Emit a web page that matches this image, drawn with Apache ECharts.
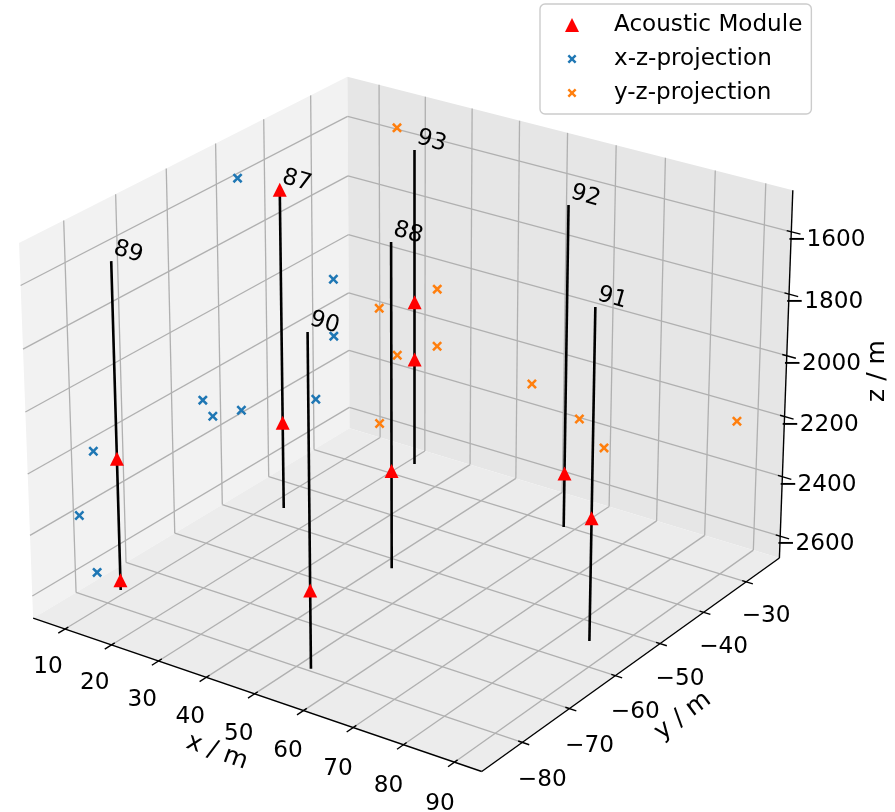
<!doctype html>
<html><head><meta charset="utf-8">
<style>html,body{margin:0;padding:0;background:#fff}#c{width:895px;height:812px}</style>
<script src="https://cdn.jsdelivr.net/npm/echarts@6/dist/echarts.min.js"></script>
</head><body><div id="c"></div>
<script>
// ---- data (metres) ----
const stringIds    = [87, 88, 89, 90, 91, 92, 93];
const stringX      = [13.0, 42.4, 9.0, 52.6, 85.1, 57.9, 21.8];
const stringY      = [-46.4, -52.4, -76.5, -79.6, -54.4, -30.3, -26.2];
const stringTopZ   = [-1606, -1601, -1600, -1602, -1603, -1602, -1604];
const stringBotZ   = [-2672, -2671, -2671, -2672, -2673, -2673, -2671];
const moduleString = [87, 87, 93, 93, 89, 89, 88, 92, 90, 91];
const moduleZ      = [-1606, -2380, -2113, -2309, -2235, -2638, -2345, -2491, -2417, -2272];
const xzProjectionX = 3.9;    // plane on which the blue crosses sit
const yzProjectionY = -21.1;  // plane on which the orange crosses sit
const xTicks = [10, 20, 30, 40, 50, 60, 70, 80, 90];
const yTicks = [-80, -70, -60, -50, -40, -30];
const zTicks = [-2600, -2400, -2200, -2000, -1800, -1600];
const xLim = [3.08, 95.3], yLim = [-88.4, -22.0], zLim = [-2674, -1468];
const seriesNames = ['Acoustic Module', 'x-z-projection', 'y-z-projection'];

// ---- 3D view (elev 25, azim -55, perspective) -> page pixels ----
const elev = 25 * Math.PI / 180, azim = -55 * Math.PI / 180, viewDist = 10;
const k = 1.8294640721620434 / Math.sqrt(41), box = [4 * k, 4 * k, 3 * k];
const dot = (a, b) => a[0] * b[0] + a[1] * b[1] + a[2] * b[2];
const cross = (a, b) => [a[1] * b[2] - a[2] * b[1], a[2] * b[0] - a[0] * b[2], a[0] * b[1] - a[1] * b[0]];
const nrm = [Math.cos(elev) * Math.cos(azim), Math.cos(elev) * Math.sin(azim), Math.sin(elev)];
const eye = box.map((b, i) => b / 2 + viewDist * nrm[i]);
const ul = Math.hypot(nrm[0], nrm[1]);
const U = cross([0, 0, 1], nrm).map(v => v / ul), V = cross(nrm, U);
const scaleX = [4772.59, 410.93], scaleY = [-4778.93, 405.38];
function project(x, y, z) {
  const p = [(x - xLim[0]) / (xLim[1] - xLim[0]) * box[0] - eye[0],
             (y - yLim[0]) / (yLim[1] - yLim[0]) * box[1] - eye[1],
             (z - zLim[0]) / (zLim[1] - zLim[0]) * box[2] - eye[2]];
  const d = -dot(p, nrm);
  return [scaleX[0] * dot(p, U) / d + scaleX[1], scaleY[0] * dot(p, V) / d + scaleY[1]];
}
const seg = (a, b) => ({ coords: [project(...a), project(...b)] });
const [x0, x1] = xLim, [y0, y1] = yLim, [z0, z1] = zLim;

// ---- panes, grid, axes ----
const panes = [
  { fill: '#f2f2f2', pts: [[x0, y0, z0], [x0, y1, z0], [x0, y1, z1], [x0, y0, z1]] },
  { fill: '#e6e6e6', pts: [[x0, y1, z0], [x1, y1, z0], [x1, y1, z1], [x0, y1, z1]] },
  { fill: '#ececec', pts: [[x0, y0, z0], [x1, y0, z0], [x1, y1, z0], [x0, y1, z0]] }
];
const gridSegs = [];
xTicks.forEach(t => { gridSegs.push(seg([t, y0, z0], [t, y1, z0]), seg([t, y1, z0], [t, y1, z1])); });
yTicks.forEach(t => { gridSegs.push(seg([x0, t, z0], [x1, t, z0]), seg([x0, t, z0], [x0, t, z1])); });
zTicks.forEach(t => { gridSegs.push(seg([x0, y0, t], [x0, y1, t]), seg([x0, y1, t], [x1, y1, t])); });
const axisSegs = [seg([x0, y0, z0], [x1, y0, z0]), seg([x1, y0, z0], [x1, y1, z0]), seg([x1, y1, z0], [x1, y1, z1])];
xTicks.forEach(t => axisSegs.push(seg([t, y0 - 1.3, z0], [t, y0 + 0.65, z0])));
yTicks.forEach(t => axisSegs.push(seg([x1 - 0.8, t, z0], [x1 + 1.35, t, z0])));
zTicks.forEach(t => axisSegs.push(seg([x1 - 0.9, y1, t], [x1 + 1.8, y1, t])));

// ---- marks ----
const strIdx = id => stringIds.indexOf(id);
const stringSegs = stringIds.map((id, i) => seg([stringX[i], stringY[i], stringTopZ[i]], [stringX[i], stringY[i], stringBotZ[i]]));
const modulePts = moduleString.map((id, i) => project(stringX[strIdx(id)], stringY[strIdx(id)], moduleZ[i]));
const xzPts = moduleString.map((id, i) => project(xzProjectionX, stringY[strIdx(id)], moduleZ[i]));
const yzPts = moduleString.map((id, i) => project(stringX[strIdx(id)], yzProjectionY, moduleZ[i]));

// ---- texts ----
const FS = 23.2, FS_AXIS = 25, minus = v => (v < 0 ? '\u2212' + (-v) : String(v));
const texts = [];
const addText = (pos, dx, dy, text, rot, size) => texts.push({ value: [pos[0] + dx, pos[1] + dy], text, rot: rot * Math.PI / 180, size: size || FS });
// tick labels sit further from the axis where the box is nearer to the viewer
xTicks.forEach((t, i) => addText(project(t, y0, z0), -17 + i * 0.31, 38 + i * 0.5, String(t), 0));
yTicks.forEach((t, i) => addText(project(x1, t, z0), 20, 38 - i * 0.8, minus(t), 0));
zTicks.forEach(t => addText(project(x1, y1, t), 35, 8, minus(t), 0));
stringIds.forEach((id, i) => addText(project(stringX[i], stringY[i], stringTopZ[i]), 17, -9, String(id), -16));
addText([217, 752], 0, 0, 'x / m', -20, FS_AXIS);
addText([683, 716], 0, 0, 'y / m', 37, FS_AXIS);
addText([877, 371], 0, 0, 'z / m', 90, FS_AXIS);

const xPath = 'M1.8 0L5 3.2L8.2 0L10 1.8L6.8 5L10 8.2L8.2 10L5 6.8L1.8 10L0 8.2L3.2 5L0 1.8Z';
const xSymbol = 'path://' + xPath;
const triSymbol = 'path://M5 0L10 10L0 10Z';
const xLegendIcon = 'path://M0 0L0 0M14 14L14 14M4.2 2.5L7 5.3L9.8 2.5L11.5 4.2L8.7 7L11.5 9.8L9.8 11.5L7 8.7L4.2 11.5L2.5 9.8L5.3 7L2.5 4.2Z';

const lineSeries = (data, color, width, z) => ({
  type: 'lines', coordinateSystem: 'cartesian2d', polyline: false, silent: true, z, animation: false,
  symbol: ['none', 'none'], lineStyle: { color, width, opacity: 1, curveness: 0 }, data
});

const chart = echarts.init(document.getElementById('c'), null, { renderer: 'canvas' });
chart.setOption({
  animation: false,
  backgroundColor: '#ffffff',
  grid: { left: 0, right: 0, top: 0, bottom: 0 },
  xAxis: { type: 'value', min: 0, max: 895, show: false },
  yAxis: { type: 'value', min: 0, max: 812, inverse: true, show: false },
  legend: {
    left: 540, top: 4, orient: 'vertical', padding: [9, 9, 9, 25],
    data: [
      { name: seriesNames[0], icon: triSymbol },
      { name: seriesNames[1], icon: xLegendIcon },
      { name: seriesNames[2], icon: xLegendIcon }
    ],
    itemWidth: 14, itemHeight: 14, itemGap: 10, selectedMode: false,
    backgroundColor: 'rgba(255,255,255,0.8)', borderColor: '#cccccc', borderWidth: 1.4, borderRadius: 5,
    textStyle: { fontFamily: 'DejaVu Sans', fontSize: 23.1, lineHeight: 24, color: '#000', padding: [0, 0, 0, 30] }
  },
  series: [
    {
      type: 'custom', coordinateSystem: 'cartesian2d', silent: true, z: 1, clip: false,
      data: panes.map((p, i) => [i]),
      renderItem: (params, api) => ({
        type: 'polygon',
        shape: { points: panes[params.dataIndex].pts.map(q => api.coord(project(...q))) },
        style: { fill: panes[params.dataIndex].fill }
      })
    },
    lineSeries(gridSegs, '#b0b0b0', 1.3, 2),
    lineSeries(axisSegs, '#000000', 1.4, 3),
    { name: seriesNames[1], type: 'scatter', symbol: xSymbol, symbolSize: 10, z: 4, silent: true,
      itemStyle: { color: '#1f77b4', opacity: 1 }, data: xzPts },
    { name: seriesNames[2], type: 'scatter', symbol: xSymbol, symbolSize: 10, z: 4, silent: true,
      itemStyle: { color: '#ff7f0e', opacity: 1 }, data: yzPts },
    lineSeries(stringSegs, '#000000', 2.6, 5),
    { name: seriesNames[0], type: 'scatter', symbol: triSymbol, symbolSize: 14, z: 6, silent: true,
      itemStyle: { color: '#ff0000', opacity: 1 }, data: modulePts },
    {
      type: 'custom', coordinateSystem: 'cartesian2d', silent: true, z: 7, clip: false,
      encode: { x: 0, y: 1 },
      data: texts.map(t => t.value),
      renderItem: (params, api) => {
        const t = texts[params.dataIndex], c = api.coord([api.value(0), api.value(1)]);
        return {
          type: 'text', x: c[0], y: c[1], rotation: t.rot,
          style: { text: t.text, fill: '#000', fontFamily: 'DejaVu Sans', fontSize: t.size, align: 'center', verticalAlign: 'middle' }
        };
      }
    }
  ]
});
</script></body></html>
